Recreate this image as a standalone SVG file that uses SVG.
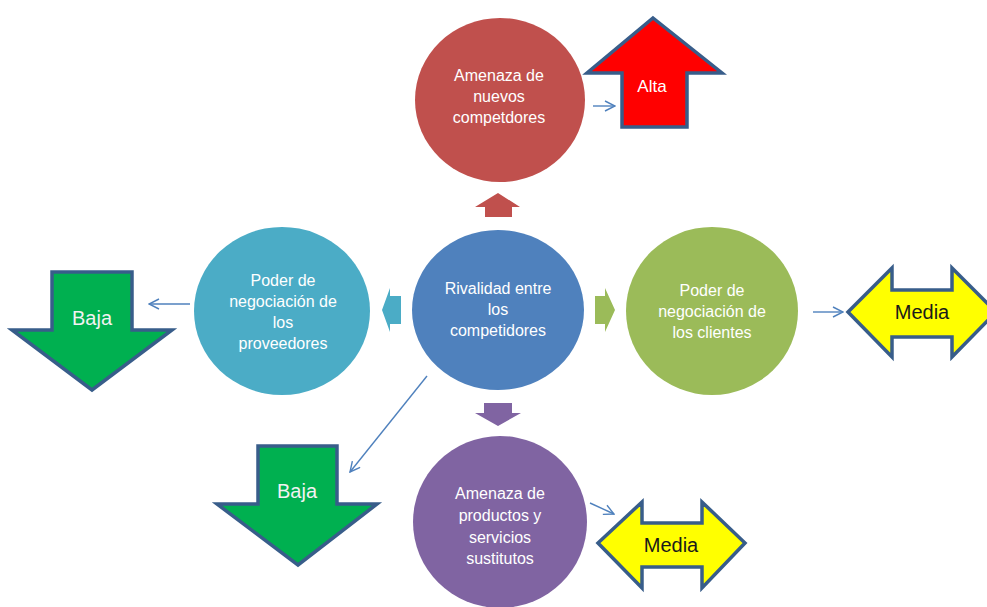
<svg xmlns="http://www.w3.org/2000/svg" width="987" height="607" viewBox="0 0 987 607">
  <defs>
    <marker id="open" viewBox="0 0 12 12" refX="11" refY="6" markerWidth="12" markerHeight="12" markerUnits="userSpaceOnUse" orient="auto">
      <path d="M1,1 L11,6 L1,11" fill="none" stroke="#4F81BD" stroke-width="1.4"/>
    </marker>
    <style>
      .lbl { font-family: "Liberation Sans", Arial, sans-serif; font-size: 16px; fill: #ffffff; text-anchor: middle; }
      .big { stroke: #385D8A; stroke-width: 3.5; stroke-linejoin: miter; }
      .tag { font-family: "Liberation Sans", Arial, sans-serif; text-anchor: middle; }
      .conn { stroke: #4F81BD; stroke-width: 1.4; fill: none; marker-end: url(#open); }
    </style>
  </defs>
  <rect width="987" height="607" fill="#ffffff"/>

  <!-- central force -->
  <g id="rivalidad">
    <ellipse cx="498" cy="310" rx="86" ry="80" fill="#4F81BD"/>
    <text class="lbl" x="498" y="294">Rivalidad entre</text>
    <text class="lbl" x="498" y="315">los</text>
    <text class="lbl" x="498" y="336">competidores</text>
  </g>

  <!-- top: new entrants -->
  <g id="nuevos">
    <ellipse cx="500" cy="100" rx="85" ry="82" fill="#C0504D"/>
    <text class="lbl" x="499" y="81">Amenaza de</text>
    <text class="lbl" x="499" y="102">nuevos</text>
    <text class="lbl" x="499" y="123">competdores</text>
    <polygon points="498,193 520,207 512,207 512,217 485,217 485,207 475,207" fill="#C0504D"/>
  </g>

  <!-- left: suppliers -->
  <g id="proveedores">
    <ellipse cx="282" cy="311" rx="88" ry="84" fill="#4BACC6"/>
    <text class="lbl" x="283" y="286">Poder de</text>
    <text class="lbl" x="283" y="307">negociación de</text>
    <text class="lbl" x="283" y="328">los</text>
    <text class="lbl" x="283" y="349">proveedores</text>
    <polygon points="382,310 390,288 390,296 401,296 401,324 390,324 390,332" fill="#4BACC6"/>
  </g>

  <!-- right: customers -->
  <g id="clientes">
    <ellipse cx="712" cy="311" rx="86" ry="84" fill="#9BBB59"/>
    <text class="lbl" x="712" y="296">Poder de</text>
    <text class="lbl" x="712" y="317">negociación de</text>
    <text class="lbl" x="712" y="338">los clientes</text>
    <polygon points="615,310 605,288 605,296 595,296 595,324 605,324 605,332" fill="#9BBB59"/>
  </g>

  <!-- bottom: substitutes -->
  <g id="sustitutos">
    <ellipse cx="500" cy="522" rx="87" ry="86" fill="#8064A2"/>
    <text class="lbl" x="500" y="499">Amenaza de</text>
    <text class="lbl" x="500" y="521">productos y</text>
    <text class="lbl" x="500" y="543">servicios</text>
    <text class="lbl" x="500" y="564">sustitutos</text>
    <polygon points="484,403 512,403 512,413 521,413 498,426 475,413 484,413" fill="#8064A2"/>
  </g>

  <!-- rating arrows -->
  <g id="alta">
    <polygon class="big" points="653,18 722,73 687,73 687,127 622,127 622,73 587,73" fill="#FF0000"/>
    <text class="tag" x="652" y="92" font-size="17" fill="#ffffff">Alta</text>
  </g>
  <g id="baja-proveedores">
    <polygon class="big" points="52,272 132,272 132,330 172,330 92,390 12,330 52,330" fill="#00B050"/>
    <text class="tag" x="92" y="325" font-size="20" fill="#F2F2F2">Baja</text>
  </g>
  <g id="media-clientes">
    <polygon class="big" points="848,312 892,268 892,290 952,290 952,268 996,312 952,357 952,337 892,337 892,357" fill="#FFFF00"/>
    <text class="tag" x="922" y="319" font-size="20" fill="#1a1a1a">Media</text>
  </g>
  <g id="baja-rivalidad">
    <polygon class="big" points="258,446 337,446 337,504 377,504 298,565 217,504 258,504" fill="#00B050"/>
    <text class="tag" x="297" y="498" font-size="20" fill="#F2F2F2">Baja</text>
  </g>
  <g id="media-sustitutos">
    <polygon class="big" points="598,543 642,502 642,523 702,523 702,502 745,543 702,588 702,567 642,567 642,588" fill="#FFFF00"/>
    <text class="tag" x="671" y="552" font-size="20" fill="#1a1a1a">Media</text>
  </g>

  <!-- connectors -->
  <g id="connectors">
    <line class="conn" x1="593" y1="106" x2="615" y2="106"/>
    <line class="conn" x1="190" y1="304" x2="149" y2="304"/>
    <line class="conn" x1="813" y1="312" x2="843" y2="312"/>
    <line class="conn" x1="427" y1="376" x2="350" y2="472"/>
    <line class="conn" x1="590" y1="503" x2="614" y2="514"/>
  </g>
</svg>
